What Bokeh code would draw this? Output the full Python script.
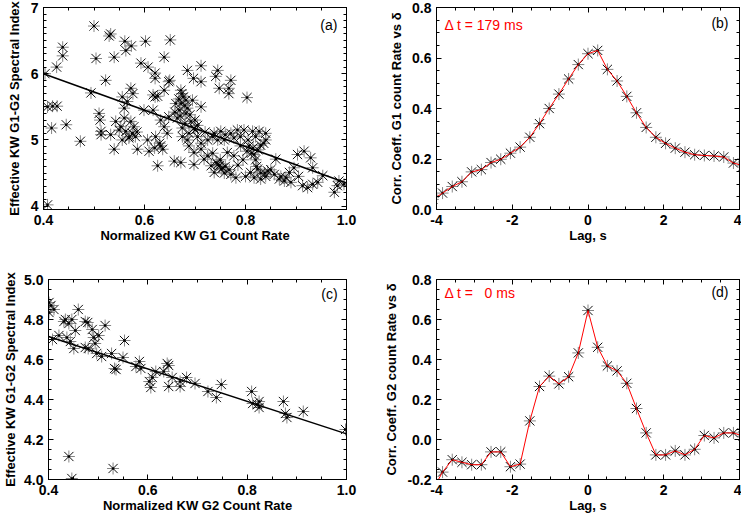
from bokeh.plotting import figure
from bokeh.layouts import column, row
from bokeh.models import (LinearAxis, Range1d, Label, SingleIntervalTicker,
                          PrintfTickFormatter, CustomLabelingPolicy)
from bokeh.embed import file_html
from bokeh.resources import INLINE

# ---------------- data ----------------
# panel (a): normalized KW G1 count rate vs effective spectral index
a_x = [0.500, 0.530, 0.533, 0.561, 0.563, 0.574, 0.602, 0.651, 0.438, 0.438,
       0.426, 0.504, 0.540, 0.639, 0.593, 0.607, 0.621, 0.621, 0.650, 0.648,
       0.523, 0.403, 0.494, 0.573, 0.577, 0.556, 0.617, 0.621, 0.626, 0.639,
       0.685, 0.712, 0.697, 0.712, 0.745, 0.741, 0.748, 0.771, 0.767, 0.767,
       0.803, 0.712, 0.672, 0.677, 0.682, 0.672, 0.669, 0.685, 0.695, 0.665,
       0.682, 0.692, 0.698, 0.675, 0.688, 0.408, 0.418, 0.427, 0.416, 0.445,
       0.473, 0.408, 0.510, 0.512, 0.514, 0.514, 0.533, 0.543, 0.540, 0.553,
       0.560, 0.560, 0.566, 0.556, 0.569, 0.576, 0.579, 0.582, 0.563, 0.573,
       0.586, 0.599, 0.617, 0.606, 0.609, 0.622, 0.626, 0.632, 0.636, 0.639,
       0.632, 0.645, 0.648, 0.659, 0.672, 0.688, 0.698, 0.685, 0.712, 0.698,
       0.718, 0.725, 0.738, 0.751, 0.771, 0.784, 0.797, 0.814, 0.827, 0.840,
       0.840, 0.836, 0.745, 0.758, 0.777, 0.790, 0.807, 0.803, 0.817, 0.764,
       0.777, 0.742, 0.748, 0.752, 0.738, 0.771, 0.781, 0.810, 0.817, 0.824,
       0.830, 0.844, 0.857, 0.867, 0.877, 0.887, 0.896, 0.903, 0.913, 0.923,
       0.933, 0.943, 0.953, 0.916, 0.929, 0.933, 0.860, 0.976, 0.982, 0.985,
       0.995, 0.712, 0.725, 0.732, 0.705, 0.675, 0.755, 0.745, 0.760, 0.815,
       0.825, 0.820, 0.700, 0.720, 0.680, 0.660, 0.550, 0.570, 0.585, 0.620,
       0.630, 0.830, 0.840, 0.870, 0.668, 0.674, 0.680, 0.690, 0.700, 0.705,
       0.662, 0.671, 0.735, 0.760, 0.790, 0.805, 0.820, 0.830, 0.812, 0.795,
       0.785, 0.768, 0.758, 0.800, 0.822, 0.838, 0.850, 0.880, 0.890, 0.905,
       0.750, 0.735]
a_y = [6.72, 6.57, 6.60, 6.49, 6.35, 6.42, 6.49, 6.51, 6.40, 6.27,
       6.10, 6.23, 6.25, 6.25, 6.16, 6.10, 6.01, 5.93, 5.90, 5.88,
       5.90, 6.00, 5.71, 5.78, 5.70, 5.65, 5.68, 5.65, 5.66, 5.75,
       6.05, 6.12, 5.93, 5.88, 6.05, 5.96, 5.78, 5.90, 5.78, 5.70,
       5.64, 5.50, 5.75, 5.65, 5.60, 5.55, 5.45, 5.48, 5.60, 5.33,
       5.40, 5.28, 5.18, 5.18, 5.10, 5.50, 5.51, 5.51, 5.18, 5.23,
       4.98, 4.02, 5.40, 5.30, 5.13, 5.08, 5.08, 5.28, 4.86, 5.20,
       5.33, 5.48, 5.58, 5.00, 5.03, 5.10, 5.20, 5.05, 5.13, 5.28,
       4.86, 5.45, 5.45, 5.00, 4.83, 5.05, 4.61, 4.91, 4.86, 5.20,
       5.30, 5.10, 5.35, 4.68, 4.66, 4.91, 4.81, 5.00, 4.95, 4.63,
       4.71, 4.76, 5.10, 5.13, 5.10, 5.15, 5.15, 5.13, 5.13, 5.10,
       5.00, 4.95, 5.00, 5.00, 5.03, 4.91, 4.91, 4.83, 4.78, 4.81,
       4.76, 4.66, 4.61, 4.56, 4.51, 4.48, 4.43, 4.51, 4.43, 4.56,
       4.41, 4.53, 4.48, 4.41, 4.38, 4.51, 4.58, 4.78, 4.31, 4.28,
       4.33, 4.36, 4.46, 4.83, 4.73, 4.58, 4.71, 4.21, 4.31, 4.38,
       4.33, 4.86, 5.00, 4.61, 5.05, 5.05, 4.58, 4.63, 4.60, 4.88,
       4.85, 4.70, 5.15, 5.12, 5.25, 5.42, 5.15, 5.05, 5.12, 4.88,
       4.95, 4.50, 4.45, 4.45, 5.62, 5.70, 5.52, 5.38, 5.30, 5.22,
       5.55, 5.36, 5.05, 5.08, 5.05, 5.00, 5.05, 4.92, 4.80, 4.70,
       4.62, 4.55, 4.50, 4.45, 4.60, 4.50, 4.55, 4.43, 4.36, 4.45,
       4.70, 4.80]
fit_a_x = [0.4, 1.0]
fit_a_y = [6.00, 4.35]

# panel (c): normalized KW G2 count rate vs effective spectral index
c_x = [0.401, 0.405, 0.411, 0.401, 0.408, 0.421, 0.431, 0.434, 0.441, 0.447,
       0.437, 0.444, 0.454, 0.451, 0.460, 0.474, 0.479, 0.480, 0.474, 0.488,
       0.491, 0.494, 0.501, 0.497, 0.507, 0.514, 0.527, 0.533, 0.536, 0.553,
       0.550, 0.576, 0.583, 0.586, 0.603, 0.606, 0.609, 0.616, 0.632, 0.639,
       0.642, 0.642, 0.649, 0.665, 0.665, 0.678, 0.695, 0.721, 0.738, 0.748,
       0.809, 0.811, 0.821, 0.824, 0.824, 0.880, 0.873, 0.877, 0.913, 0.998,
       0.441, 0.447, 0.530]
c_y = [4.885, 4.870, 4.850, 4.835, 4.700, 4.720, 4.790, 4.800, 4.780, 4.800,
       4.710, 4.690, 4.745, 4.655, 4.850, 4.790, 4.785, 4.655, 4.660, 4.750,
       4.710, 4.680, 4.720, 4.630, 4.615, 4.770, 4.630, 4.555, 4.550, 4.695,
       4.610, 4.565, 4.590, 4.555, 4.490, 4.460, 4.510, 4.540, 4.540, 4.580,
       4.570, 4.465, 4.510, 4.465, 4.490, 4.510, 4.480, 4.440, 4.410, 4.475,
       4.440, 4.380, 4.375, 4.390, 4.360, 4.310, 4.390, 4.330, 4.340, 4.250,
       4.115, 4.005, 4.055]
fit_c_x = [0.4, 1.0]
fit_c_y = [4.715, 4.228]

# panels (b), (d): cross-correlation vs lag
lag = [-4.096, -3.84, -3.584, -3.328, -3.072, -2.816, -2.56, -2.304, -2.048,
       -1.792, -1.536, -1.28, -1.024, -0.768, -0.512, -0.256, 0.0, 0.256,
       0.512, 0.768, 1.024, 1.28, 1.536, 1.792, 2.048, 2.304, 2.56, 2.816,
       3.072, 3.328, 3.584, 3.84, 4.096]
corr_b = [0.040, 0.065, 0.091, 0.110, 0.149, 0.158, 0.186, 0.199, 0.223,
          0.247, 0.286, 0.340, 0.400, 0.457, 0.517, 0.574, 0.617, 0.630,
          0.555, 0.509, 0.448, 0.383, 0.325, 0.286, 0.262, 0.243, 0.227,
          0.217, 0.214, 0.212, 0.208, 0.184, 0.173]
corr_d = [-0.250, -0.163, -0.101, -0.114, -0.126, -0.126, -0.062, -0.062, -0.136,
          -0.123, 0.093, 0.265, 0.317, 0.278, 0.314, 0.433, 0.645, 0.461,
          0.368, 0.343, 0.281, 0.155, 0.033, -0.077, -0.077, -0.057, -0.077,
          -0.049, 0.020, 0.008, 0.033, 0.033, 0.016]

FONT = "Liberation Sans"

HIDE_JS = """
const all = [];
for (const i of indices) all.push(i);
for (const i of all) indices.unset(i);
return indices;
"""


def ticker(interval, minor):
    return SingleIntervalTicker(interval=interval, num_minor_ticks=minor)


def style_axis(ax, tk, fmt, lab, lab_standoff, lab_font_size):
    ax.ticker = ticker(*tk)
    ax.formatter = PrintfTickFormatter(format=fmt)
    ax.axis_label = lab
    ax.axis_label_text_font = FONT
    ax.axis_label_text_font_style = "bold"
    ax.axis_label_text_font_size = lab_font_size
    ax.axis_label_text_color = "black"
    ax.axis_label_standoff = lab_standoff
    ax.major_label_text_font = FONT
    ax.major_label_text_font_style = "bold"
    ax.major_label_text_font_size = "14px"
    ax.major_label_text_color = "black"
    ax.major_label_standoff = 5
    ax.major_tick_in = 5
    ax.major_tick_out = 0
    ax.minor_tick_in = 3
    ax.minor_tick_out = 0
    ax.axis_line_color = "black"
    ax.major_tick_line_color = "black"
    ax.minor_tick_line_color = "black"


def make_fig(w, h, xr, yr, borders, xt, yt, xfmt, yfmt, xlabel, ylabel,
             ylab_standoff, ylab_size):
    mbl, mbr, mbt, mbb = borders
    p = figure(width=w, height=h, x_range=Range1d(*xr), y_range=Range1d(*yr),
               output_backend="svg", toolbar_location=None,
               min_border_left=mbl, min_border_right=mbr,
               min_border_top=mbt, min_border_bottom=mbb)
    p.xgrid.visible = False
    p.ygrid.visible = False
    p.outline_line_color = "black"
    p.background_fill_color = "white"
    p.border_fill_color = "white"
    style_axis(p.xaxis[0], xt, xfmt, xlabel, 0, "13px")
    style_axis(p.yaxis[0], yt, yfmt, ylabel, ylab_standoff, ylab_size)
    for loc, tk in (("above", xt), ("right", yt)):
        ax = LinearAxis(ticker=ticker(*tk), major_label_text_font_size="0px",
                        major_label_policy=CustomLabelingPolicy(code=HIDE_JS),
                        major_label_standoff=0, major_tick_in=5, major_tick_out=0,
                        minor_tick_in=3, minor_tick_out=0, axis_line_color="black")
        p.add_layout(ax, loc)
    return p


def stars(p, x, y):
    p.scatter(x, y, marker="cross", size=12, line_color="#858585", line_width=1)
    p.scatter(x, y, marker="x", size=13, line_color="#111111", line_width=1)
    p.scatter(x, y, marker="circle", size=2.5, line_color=None, fill_color="black")


def panel_label(p, x, y, text):
    p.add_layout(Label(x=x, y=y, text=text, text_align="right", text_baseline="middle",
                       text_font=FONT, text_font_size="14px", text_color="black"))


def dt_label(p, x, y, text):
    p.add_layout(Label(x=x, y=y, text=text, text_align="left", text_baseline="middle",
                       text_font=FONT, text_font_size="14px", text_color="#ff0000"))


ylab_idx = "Effective KW G1-G2 Spectral Index"

pa = make_fig(364, 256, (0.4, 1.0), (3.95, 7.0), (43, 18, 6, 47),
              (0.2, 4), (1.0, 10), "%.1f", "%d",
              "Normalized KW G1 Count Rate", ylab_idx, 6, "13px")
stars(pa, a_x, a_y)
pa.line(fit_a_x, fit_a_y, line_color="black", line_width=1.5)
panel_label(pa, 0.982, 6.74, "(a)")

pb = make_fig(377, 256, (-4, 4), (0.0, 0.8), (72, 2, 7, 45),
              (2, 4), (0.2, 4), "%d", "%.1f",
              "Lag, s", "Corr. Coeff. G1 count Rate vs δ", 5, "13px")
stars(pb, lag, corr_b)
pb.line(lag, corr_b, line_color="#ff0000", line_width=1)
panel_label(pb, 3.71, 0.737, "(b)")
dt_label(pb, -3.79, 0.729, "Δ t = 179 ms")

pc = make_fig(364, 259, (0.4, 1.0), (4.0, 5.0), (43, 18, 22, 32),
              (0.2, 4), (0.2, 4), "%.1f", "%.1f",
              "Normalized KW G2 Count Rate", ylab_idx, 3, "13px")
stars(pc, c_x, c_y)
pc.line(fit_c_x, fit_c_y, line_color="black", line_width=1.5)
panel_label(pc, 0.982, 4.93, "(c)")

pd = make_fig(377, 259, (-4, 4), (-0.2, 0.8), (72, 2, 23, 34),
              (2, 4), (0.2, 4), "%d", "%.1f",
              "Lag, s", "Corr. Coeff. G2 count Rate vs δ", 5, "13px")
stars(pd, lag, corr_d)
pd.line(lag, corr_d, line_color="#ff0000", line_width=1)
panel_label(pd, 3.71, 0.739, "(d)")
dt_label(pd, -3.79, 0.733, "Δ t =\u00a0\u00a0\u00a00 ms")

layout = column(row(pa, pb), row(pc, pd))

open("out.html", "w").write(file_html(layout, INLINE))
